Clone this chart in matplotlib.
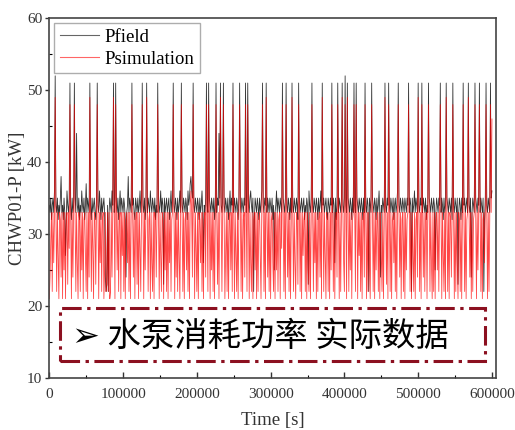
import numpy as np
import matplotlib
matplotlib.use("Agg")
import matplotlib.pyplot as plt
from matplotlib.patches import Rectangle
from matplotlib.ticker import MultipleLocator

# Sampling interval of the logged pump power [s]
dt = 1000

# Measured chilled-water pump power [kW], one row per 20 000 s
p_field = [
    34, 33, 35, 32, 34, 35, 33, 36, 52, 34, 33, 35, 32, 34, 33, 35, 38, 33, 34, 32,
    35, 33, 27, 32, 36, 34, 33, 35, 51, 34, 32, 35, 33, 34, 51, 35, 33, 44, 34, 33,
    35, 32, 34, 33, 36, 34, 33, 35, 32, 34, 37, 33, 35, 34, 33, 51, 34, 32, 35, 33,
    34, 35, 33, 32, 35, 51, 34, 33, 36, 34, 32, 35, 33, 34, 35, 33, 24, 22, 23, 34,
    22, 33, 35, 34, 33, 36, 34, 51, 33, 35, 51, 34, 33, 35, 32, 34, 36, 33, 35, 34,
    33, 35, 34, 32, 24, 33, 34, 38, 33, 35, 34, 33, 51, 34, 35, 33, 32, 35, 34, 33,
    35, 33, 34, 36, 33, 35, 51, 34, 33, 35, 32, 34, 51, 33, 35, 34, 33, 36, 34, 33,
    35, 34, 33, 35, 32, 34, 33, 51, 35, 33, 34, 36, 33, 35, 34, 23, 35, 33, 34, 35,
    33, 34, 35, 32, 34, 36, 33, 35, 51, 34, 33, 35, 34, 32, 35, 33, 34, 36, 33, 51,
    34, 33, 35, 34, 33, 35, 34, 32, 36, 34, 35, 37, 38, 36, 35, 51, 34, 33, 35, 34,
    33, 35, 34, 32, 35, 33, 34, 36, 33, 26, 34, 33, 35, 51, 34, 33, 51, 35, 34, 33,
    35, 34, 33, 35, 32, 34, 51, 33, 35, 34, 44, 35, 51, 34, 33, 35, 51, 34, 33, 35,
    34, 33, 35, 32, 34, 36, 33, 35, 34, 51, 33, 35, 34, 33, 35, 34, 32, 35, 51, 34,
    33, 35, 34, 33, 35, 34, 51, 33, 35, 51, 34, 33, 35, 36, 34, 33, 35, 22, 32, 35,
    34, 33, 35, 34, 32, 35, 33, 34, 36, 51, 34, 33, 35, 34, 51, 33, 35, 34, 33, 35,
    34, 33, 35, 32, 34, 25, 33, 34, 36, 33, 35, 34, 33, 35, 34, 33, 51, 35, 34, 33,
    35, 51, 34, 33, 35, 34, 32, 35, 33, 51, 34, 33, 35, 34, 33, 35, 34, 32, 51, 35,
    33, 34, 35, 33, 34, 35, 32, 34, 33, 35, 34, 23, 36, 34, 33, 35, 51, 34, 33, 35,
    34, 33, 35, 34, 32, 35, 33, 34, 36, 33, 51, 34, 35, 33, 34, 35, 33, 32, 35, 34,
    33, 35, 34, 51, 33, 35, 34, 26, 35, 32, 34, 51, 33, 35, 34, 33, 35, 51, 34, 33,
    35, 52, 34, 33, 51, 35, 34, 33, 35, 34, 32, 35, 33, 51, 34, 33, 51, 35, 34, 33,
    35, 34, 33, 35, 34, 32, 35, 33, 51, 34, 33, 35, 34, 22, 35, 34, 33, 51, 35, 34,
    33, 35, 34, 32, 35, 33, 34, 36, 33, 24, 34, 33, 35, 34, 33, 51, 34, 33, 35, 34,
    51, 34, 33, 35, 34, 33, 35, 32, 34, 35, 33, 34, 36, 51, 34, 33, 35, 34, 33, 35,
    34, 33, 35, 34, 33, 35, 34, 51, 33, 35, 34, 22, 35, 33, 34, 36, 33, 35, 34, 33,
    51, 34, 33, 35, 34, 51, 33, 35, 34, 33, 35, 32, 34, 33, 51, 35, 34, 33, 35, 34,
    33, 35, 34, 25, 33, 35, 34, 33, 35, 34, 51, 33, 35, 34, 32, 35, 33, 34, 51, 35,
    34, 33, 35, 34, 33, 35, 32, 51, 34, 33, 35, 34, 33, 35, 23, 33, 35, 34, 32, 35,
    33, 51, 34, 35, 33, 34, 35, 33, 51, 34, 33, 35, 24, 33, 35, 34, 33, 51, 35, 34,
    33, 35, 34, 51, 33, 35, 34, 33, 35, 22, 32, 35, 51, 34, 33, 35, 34, 33, 51, 35,
    36,
]

# Simulated chilled-water pump power [kW], one row per 20 000 s
p_sim = [
    21, 24, 29, 33, 22, 33, 26, 32, 49, 33, 22, 33, 27, 21, 33, 32, 24, 33, 21, 33,
    25, 33, 21, 32, 33, 23, 33, 28, 48, 33, 21, 33, 24, 33, 48, 32, 22, 33, 26, 21,
    33, 32, 22, 33, 25, 33, 21, 32, 33, 27, 22, 33, 21, 33, 24, 49, 33, 22, 33, 28,
    21, 33, 32, 23, 33, 48, 33, 21, 33, 26, 33, 22, 32, 33, 21, 25, 33, 22, 23, 33,
    22, 33, 21, 22, 33, 24, 33, 49, 33, 21, 48, 33, 25, 33, 22, 32, 33, 21, 33, 27,
    33, 22, 33, 21, 32, 33, 26, 33, 22, 33, 21, 33, 48, 33, 24, 33, 21, 32, 33, 23,
    33, 21, 33, 28, 22, 33, 48, 33, 21, 33, 25, 33, 49, 33, 22, 32, 33, 21, 33, 26,
    22, 33, 21, 33, 32, 24, 33, 48, 33, 21, 33, 27, 22, 33, 32, 21, 33, 25, 33, 22,
    33, 21, 33, 26, 33, 22, 32, 33, 48, 33, 21, 33, 24, 33, 22, 33, 27, 21, 33, 48,
    33, 22, 33, 21, 32, 33, 25, 33, 22, 33, 21, 34, 36, 33, 24, 48, 33, 21, 33, 28,
    22, 33, 21, 33, 32, 26, 33, 22, 33, 21, 32, 33, 24, 48, 33, 22, 48, 33, 21, 33,
    25, 33, 22, 33, 21, 32, 48, 33, 23, 33, 21, 33, 49, 33, 22, 33, 48, 33, 21, 27,
    33, 22, 33, 21, 32, 33, 25, 33, 22, 48, 33, 21, 33, 27, 22, 33, 21, 33, 48, 33,
    22, 33, 21, 32, 33, 24, 48, 33, 22, 48, 33, 21, 33, 26, 22, 33, 21, 32, 33, 25,
    33, 21, 33, 22, 32, 33, 27, 21, 33, 48, 33, 22, 33, 21, 49, 33, 24, 33, 22, 33,
    21, 32, 33, 26, 22, 33, 21, 33, 25, 33, 22, 32, 33, 21, 33, 28, 48, 33, 22, 33,
    21, 48, 33, 24, 33, 22, 33, 21, 32, 49, 33, 22, 33, 26, 21, 33, 32, 23, 48, 33,
    22, 33, 21, 33, 27, 32, 33, 22, 33, 21, 33, 25, 22, 33, 21, 32, 48, 33, 22, 33,
    26, 33, 21, 33, 22, 32, 33, 24, 33, 21, 49, 33, 22, 33, 27, 21, 33, 32, 22, 33,
    21, 33, 25, 48, 33, 22, 33, 21, 32, 33, 24, 48, 33, 21, 33, 22, 33, 49, 33, 26,
    22, 48, 33, 21, 49, 33, 22, 33, 25, 33, 21, 32, 33, 48, 33, 22, 48, 33, 21, 33,
    27, 33, 22, 33, 21, 32, 33, 24, 48, 33, 21, 33, 22, 33, 26, 21, 33, 48, 33, 22,
    33, 21, 33, 25, 32, 33, 22, 33, 21, 33, 27, 22, 33, 21, 32, 49, 33, 23, 33, 21,
    48, 33, 22, 33, 21, 32, 33, 26, 33, 22, 33, 21, 33, 48, 33, 24, 33, 21, 32, 33,
    22, 33, 21, 33, 25, 32, 33, 48, 33, 22, 33, 21, 33, 27, 22, 33, 21, 32, 33, 24,
    49, 33, 22, 33, 21, 48, 33, 24, 33, 22, 32, 33, 21, 33, 48, 33, 22, 33, 26, 21,
    33, 22, 33, 21, 32, 33, 25, 33, 22, 33, 48, 33, 21, 33, 27, 22, 33, 21, 49, 33,
    22, 33, 21, 33, 32, 24, 33, 48, 33, 21, 33, 22, 33, 26, 21, 33, 32, 22, 33, 21,
    33, 48, 33, 22, 33, 21, 32, 33, 49, 33, 24, 33, 21, 33, 22, 32, 33, 48, 33, 21,
    33, 25, 33, 48, 33, 22, 33, 21, 32, 33, 26, 33, 48, 33, 21, 33, 22, 32, 48, 33,
    46,
]

x_ticks = [0, 100000, 200000, 300000, 400000, 500000, 600000]
y_ticks = [10, 20, 30, 40, 50, 60]
series_labels = ["Pfield", "Psimulation"]
note_text = "➢ 水泵消耗功率 实际数据"

t_field = np.arange(len(p_field)) * dt
t_sim = np.arange(len(p_sim)) * dt

plt.rcParams["font.family"] = ["Liberation Serif", "DejaVu Serif"]

fig = plt.figure(figsize=(5.15, 4.30), dpi=100)
ax = fig.add_axes([0.0957, 0.1214, 0.8667, 0.8360])

ax.plot(t_field, p_field, color="black", lw=0.6, alpha=0.8, label=series_labels[0])
ax.plot(t_sim, p_sim, color="red", lw=0.6, alpha=0.72, label=series_labels[1])

ax.set_xlim(0, 605000)
ax.set_ylim(10, 60)
ax.set_xticks(x_ticks)
ax.set_xticklabels([str(v) for v in x_ticks])
ax.set_yticks(y_ticks)
ax.xaxis.set_minor_locator(MultipleLocator(50000))
ax.yaxis.set_minor_locator(MultipleLocator(5))

ax.tick_params(axis="x", which="major", direction="in", length=4, width=1,
               labelsize=11, colors="#333333", pad=7)
ax.tick_params(axis="x", which="minor", direction="in", length=2.5, width=0.8)
ax.tick_params(axis="y", which="major", direction="out", length=3, width=1,
               labelsize=11, colors="#333333", pad=2)
ax.tick_params(axis="y", which="minor", direction="in", length=2.5, width=0.8)

for sp in ax.spines.values():
    sp.set_linewidth(1.2)
    sp.set_color("#444444")

ax.set_xlabel("Time [s]", fontsize=13.5, color="#333333", labelpad=8)
ax.set_ylabel("CHWP01-P [kW]", fontsize=13.5, color="#333333", labelpad=1)

leg = ax.legend(loc="upper left", fontsize=13.5, frameon=True, fancybox=False,
                handlelength=2.1, handletextpad=0.3, borderaxespad=0.25,
                borderpad=0.3, labelspacing=0.25)
leg.get_frame().set_edgecolor("#999999")
leg.get_frame().set_linewidth(1.0)
for h in leg.get_lines():
    h.set_linewidth(0.8)
    h.set_alpha(0.6)

# Dash-dot frame with the caption
box_lw = 2.2
box = Rectangle((14800, 12.4), 590400 - 14800, 19.7 - 12.4,
                fill=True, facecolor="white", edgecolor="#8c1020",
                linewidth=box_lw, linestyle=(0, (6.4, 1.8, 1.1, 1.8)), zorder=5)
ax.add_patch(box)
ax.text(31000, 15.7, note_text, fontsize=24, color="black", va="center", ha="left",
        family=["Noto Sans CJK SC", "DejaVu Sans"], zorder=6)

fig.savefig("out.png", dpi=100)
